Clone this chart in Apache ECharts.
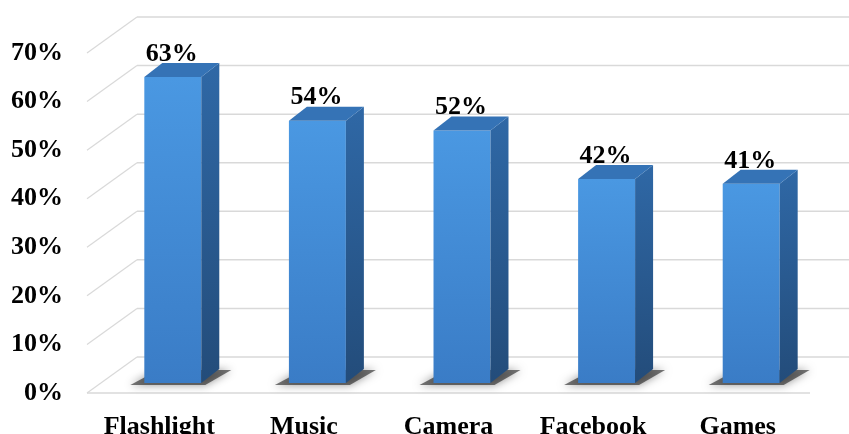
<!DOCTYPE html>
<html>
<head>
<meta charset="utf-8">
<script src="https://cdn.jsdelivr.net/npm/echarts@6/dist/echarts.min.js"></script>
<style>
html,body{margin:0;padding:0;background:#fff;}
#chart{width:849px;height:434px;}
</style>
</head>
<body>
<div id="chart"></div>
<script>
var categories = ['Flashlight', 'Music', 'Camera', 'Facebook', 'Games'];
var values = [63, 54, 52, 42, 41];
var yTicks = [0, 10, 20, 30, 40, 50, 60, 70];

var FONT = '"Liberation Serif", "Times New Roman", serif';
var WALL_DX = 50, WALL_DY = -36;   // back wall offset from front floor edge
var BAR_DX = 13.5, BAR_DY = -10;   // bar front plane offset
var DEP_DX = 18, DEP_DY = -14;     // bar depth
var GRID_COLOR = '#d9d9d9';

var chart = echarts.init(document.getElementById('chart'), null, {renderer: 'canvas'});

function wallRender(params, api) {
  var children = [];
  var band = api.size([1, 0])[0];
  var xLeft = api.coord([0, 0])[0] - band / 2;
  var xRight = api.coord([categories.length - 1, 0])[0] + band / 2;
  for (var i = 0; i < yTicks.length; i++) {
    var y = api.coord([0, yTicks[i]])[1];
    children.push({
      type: 'line', silent: true,
      shape: {x1: xLeft, y1: y, x2: xLeft + WALL_DX, y2: y + WALL_DY},
      style: {stroke: GRID_COLOR, lineWidth: 1.2}
    });
    children.push({
      type: 'line', silent: true,
      shape: {x1: xLeft + WALL_DX, y1: y + WALL_DY, x2: 860, y2: y + WALL_DY},
      style: {stroke: GRID_COLOR, lineWidth: 1.5}
    });
  }
  var y0 = api.coord([0, 0])[1];
  children.push({
    type: 'line', silent: true,
    shape: {x1: xLeft, y1: y0, x2: xRight, y2: y0},
    style: {stroke: GRID_COLOR, lineWidth: 1.5}
  });
  return {type: 'group', children: children};
}

function barRender(params, api) {
  var idx = api.value(0);
  var val = api.value(1);
  var p0 = api.coord([idx, 0]);
  var p1 = api.coord([idx, val]);
  var w = api.size([1, 0])[0] * 0.394;
  var cx = p0[0] + BAR_DX;
  var xl = cx - w / 2, xr = cx + w / 2;
  var bottom = p0[1] + BAR_DY, top = p1[1] + BAR_DY;
  var children = [];
  // floor shadow
  children.push({
    type: 'polygon', silent: true,
    shape: {points: [[xl - 14, bottom + 2], [xr + 4, bottom + 2], [xr + DEP_DX + 12, bottom + DEP_DY + 1], [xl + DEP_DX - 4, bottom + DEP_DY + 1]]},
    style: {fill: 'rgba(30,30,30,0.6)', shadowBlur: 9, shadowColor: 'rgba(0,0,0,0.7)'}
  });
  // front face
  children.push({
    type: 'rect',
    shape: {x: xl, y: top, width: w, height: bottom - top},
    style: {
      fill: new echarts.graphic.LinearGradient(0, 0, 0, 1, [
        {offset: 0, color: '#4a98e2'},
        {offset: 1, color: '#3a7cc6'}
      ])
    }
  });
  // side face
  children.push({
    type: 'polygon',
    shape: {points: [[xr, top], [xr + DEP_DX, top + DEP_DY], [xr + DEP_DX, bottom + DEP_DY], [xr, bottom]]},
    style: {
      fill: new echarts.graphic.LinearGradient(0, 0, 0, 1, [
        {offset: 0, color: '#2f68a6'},
        {offset: 1, color: '#234c7a'}
      ])
    }
  });
  // top face
  children.push({
    type: 'polygon',
    shape: {points: [[xl, top], [xl + DEP_DX, top + DEP_DY], [xr + DEP_DX, top + DEP_DY], [xr, top]]},
    style: {fill: '#3573b6'}
  });
  // label
  children.push({
    type: 'text', silent: true,
    style: {
      text: val + '%',
      x: cx - 1, y: top + DEP_DY + 4,
      align: 'center', verticalAlign: 'bottom',
      font: 'bold 26px ' + FONT,
      fill: '#000'
    }
  });
  return {type: 'group', children: children};
}

var barData = values.map(function (v, i) { return [i, v]; });

chart.setOption({
  backgroundColor: '#ffffff',
  animation: false,
  grid: {left: 87, right: 39, top: 53, bottom: 41, containLabel: false, outerBoundsMode: 'none'},
  xAxis: {
    type: 'category',
    data: categories,
    axisLine: {show: false},
    axisTick: {show: false},
    axisLabel: {
      interval: 0, hideOverlap: false,
      color: '#000', fontFamily: FONT, fontWeight: 'bold', fontSize: 26, margin: 21
    }
  },
  yAxis: {
    type: 'value',
    min: 0, max: 70, interval: 10,
    axisLine: {show: false},
    axisTick: {show: false},
    splitLine: {show: false},
    axisLabel: {
      formatter: '{value}%',
      padding: [7, 0, 0, 0],
      color: '#000', fontFamily: FONT, fontWeight: 'bold', fontSize: 26, margin: 24
    }
  },
  series: [
    {type: 'custom', renderItem: wallRender, data: [[0, 0]], silent: true, z: 1, clip: false},
    {type: 'custom', renderItem: barRender, data: barData, z: 2, clip: false}
  ]
});
</script>
</body>
</html>
